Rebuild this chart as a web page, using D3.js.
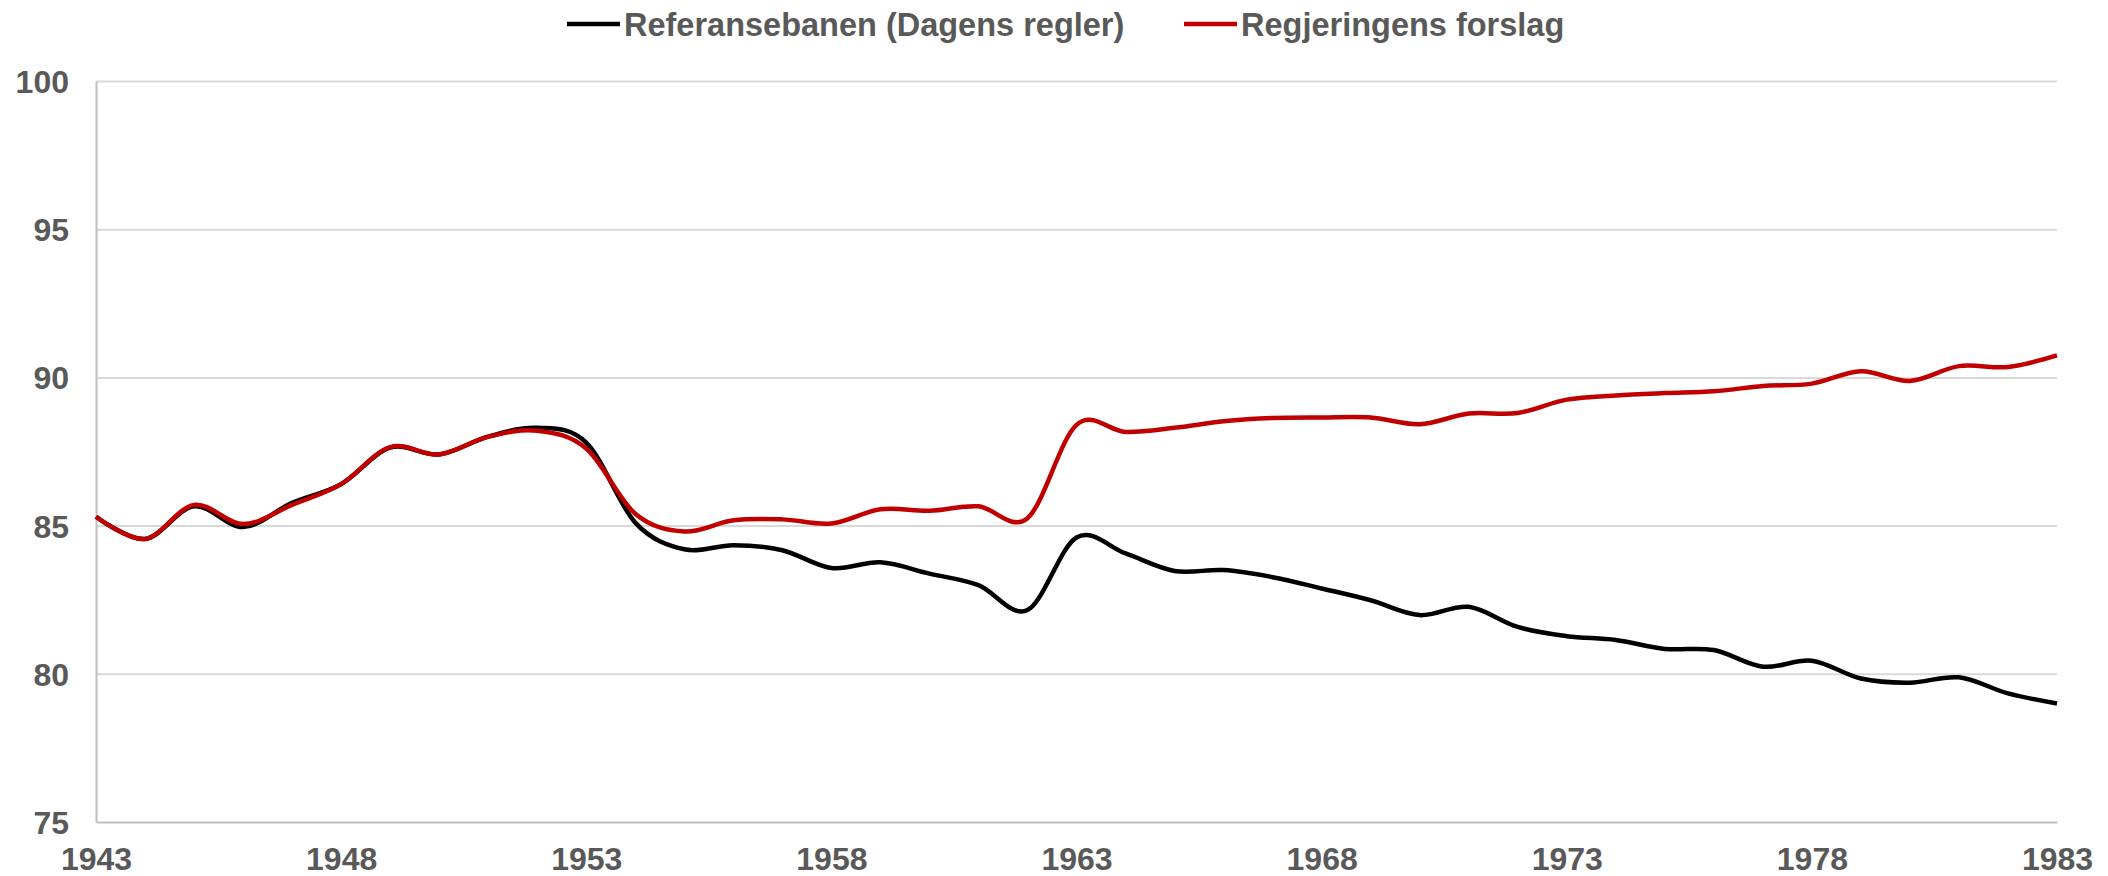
<!DOCTYPE html>
<html>
<head>
<meta charset="utf-8">
<script src="https://cdn.jsdelivr.net/npm/d3@7"></script>
<style>
  body { margin: 0; background: #fff; }
  text { font-family: "Liberation Sans", Arial, sans-serif; font-weight: bold; fill: #595959; }
</style>
</head>
<body>
<div id="chart"></div>
<script>
const years = d3.range(1943, 1984);

// Referansebanen (Dagens regler)
const referanse = [
    85.3, 84.55, 85.65, 84.95, 85.77, 86.4, 87.63, 87.4, 88.0, 88.3,
    87.8, 85.1, 84.2, 84.34, 84.17, 83.57, 83.76, 83.38, 82.99, 82.15,
    84.6, 84.06, 83.47, 83.5, 83.26, 82.88, 82.48, 81.98, 82.26, 81.58,
    81.27, 81.14, 80.84, 80.8, 80.24, 80.44, 79.84, 79.7, 79.88, 79.34,
    79.0
];

// Regjeringens forslag
const forslag = [
    85.3, 84.55, 85.7, 85.05, 85.7, 86.4, 87.65, 87.4, 88.0, 88.2,
    87.6, 85.4, 84.8, 85.18, 85.21, 85.07, 85.55, 85.5, 85.65, 85.25,
    88.4, 88.16, 88.3, 88.52, 88.63, 88.65, 88.65, 88.42, 88.78, 88.8,
    89.25, 89.39, 89.47, 89.53, 89.71, 89.79, 90.21, 89.88, 90.38, 90.35,
    90.74
];

const xTicks = [1943, 1948, 1953, 1958, 1963, 1968, 1973, 1978, 1983];
const yTicks = [75, 80, 85, 90, 95, 100];

const series = [
    { name: 'Referansebanen (Dagens regler)', values: referanse, color: '#000000' },
    { name: 'Regjeringens forslag', values: forslag, color: '#c00000' }
];

const width = 2108;
const height = 876;
const margin = { top: 81, right: 51, bottom: 54, left: 96 };

const svg = d3.select('#chart')
    .append('svg')
    .attr('width', width)
    .attr('height', height);

const xScale = d3.scaleLinear()
    .domain([1943, 1983])
    .range([margin.left, width - margin.right]);

const yScale = d3.scaleLinear()
    .domain([75, 100])
    .range([height - margin.bottom, margin.top]);

// gridlines
const grid = svg.append('g')
    .attr('transform', `translate(${margin.left}, 0)`)
    .call(d3.axisLeft(yScale).tickValues(yTicks.filter((d) => d > 75)).tickFormat('').tickSize(-(width - margin.left - margin.right)));
grid.select('.domain').remove();
grid.selectAll('line').attr('stroke', '#d9d9d9').attr('stroke-width', 2);

// y axis
const yAxis = svg.append('g')
    .attr('transform', `translate(${margin.left}, 0)`)
    .call(d3.axisLeft(yScale).tickValues(yTicks).tickSize(0).tickPadding(27));
yAxis.select('.domain').attr('stroke', '#bfbfbf').attr('stroke-width', 2);
yAxis.selectAll('text').style('font-size', '32px').attr('dy', '0.36em');

// x axis
const xAxis = svg.append('g')
    .attr('transform', `translate(0, ${height - margin.bottom})`)
    .call(d3.axisBottom(xScale).tickValues(xTicks).tickFormat(d3.format('d')).tickSize(0).tickPadding(25));
xAxis.select('.domain').attr('stroke', '#bfbfbf').attr('stroke-width', 2);
xAxis.selectAll('text').style('font-size', '32px').attr('dy', '0.71em');

// lines
const line = d3.line()
    .x((d, i) => xScale(years[i]))
    .y((d) => yScale(d))
    .curve(d3.curveCardinal.tension(0));

svg.append('g')
    .selectAll('path')
    .data(series)
    .join('path')
    .attr('d', (d) => line(d.values))
    .attr('fill', 'none')
    .attr('stroke', (d) => d.color)
    .attr('stroke-width', 4.5)
    .attr('stroke-linejoin', 'round');

// legend
const legendX = [567, 1184];
const legend = svg.append('g');
series.forEach((s, i) => {
    const g = legend.append('g').attr('transform', `translate(${legendX[i]}, 24)`);
    g.append('line')
        .attr('x1', 0).attr('x2', 53)
        .attr('stroke', s.color)
        .attr('stroke-width', 4.5);
    g.append('text')
        .attr('x', 57)
        .attr('dy', '0.36em')
        .style('font-size', '32.5px')
        .text(s.name);
});
</script>
</body>
</html>
